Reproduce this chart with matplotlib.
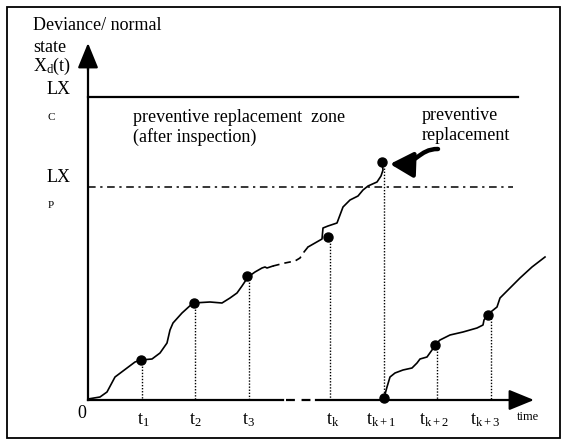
import matplotlib.pyplot as plt
from matplotlib.patches import FancyArrowPatch, Rectangle
from matplotlib.path import Path

plt.rcParams['font.family'] = ['Liberation Serif', 'DejaVu Serif']
plt.rcParams['mathtext.fontset'] = 'custom'
plt.rcParams['mathtext.rm'] = 'Liberation Serif'
plt.rcParams['mathtext.it'] = 'Liberation Serif:italic'

# diagram drawn in picture units (x to the right, y downward)
origin = (88, 400)
lxc_y = 97
lxp_y = 187

# degradation path before the replacement (solid part, dashed gap, solid part)
path1_x = [88, 100, 107, 115, 127, 135, 141, 152, 160, 167, 170, 173, 182, 193, 210, 222, 230, 237, 242, 248, 255, 262, 265, 267, 273]
path1_y = [399, 397, 392, 377, 368, 362, 360, 359, 353, 343, 330, 323, 313, 303, 302, 303, 298, 293, 286, 277, 272, 268, 267, 268, 266]
gap_x = [273, 285, 295, 300, 304, 308]
gap_y = [266, 263, 261, 258, 252, 247]
path2_x = [308, 315, 322, 323, 328, 337, 340, 343, 350, 358, 363, 368, 377, 381, 383, 382]
path2_y = [247, 243, 239, 228, 226, 223, 215, 207, 200, 196, 190, 186, 182, 176, 170, 163]

# path after the preventive replacement
path3_x = [384, 387, 390, 395, 403, 412, 417, 420, 427, 432, 435, 440, 450, 463, 477, 483, 484, 487, 497, 500, 510, 520, 532, 545]
path3_y = [398, 387, 377, 373, 370, 368, 363, 359, 357, 350, 345, 340, 335, 332, 328, 325, 320, 315, 307, 298, 288, 278, 267, 257]

# inspection points
insp_x = [141, 194, 247, 328, 382, 384, 435, 488]
insp_y = [360, 303, 276, 237, 162, 398, 345, 315]
insp_line_x = [142, 195, 249, 330, 384, 437, 491]
insp_line_top = [360, 303, 276, 237, 165, 345, 315]

tick_x = [143, 195, 249, 333, 381, 434, 485]
tick_labels = [r'$\mathrm{t}_{\mathrm{1}}$', r'$\mathrm{t}_{\mathrm{2}}$', r'$\mathrm{t}_{\mathrm{3}}$',
               r'$\mathrm{t}_{\mathrm{k}}$', r'$\mathrm{t}_{\mathrm{k+1}}$', r'$\mathrm{t}_{\mathrm{k+2}}$',
               r'$\mathrm{t}_{\mathrm{k+3}}$']

fig = plt.figure(figsize=(5.67, 4.41), dpi=100)
ax = fig.add_axes([0, 0, 1, 1])
ax.set_xlim(0, 567)
ax.set_ylim(441, 0)
ax.axis('off')

# outer frame
ax.add_patch(Rectangle((7, 7), 553, 431, fill=False, lw=1.3, color='black'))

# axes of the diagram
ax.plot([origin[0], origin[0]], [origin[1], 58], color='black', lw=1.6)
ax.plot([origin[0], 283], [origin[1], origin[1]], color='black', lw=1.6)
ax.plot([286, 316], [origin[1], origin[1]], color='black', lw=1.6, dashes=(4, 3))
ax.plot([316, 520], [origin[1], origin[1]], color='black', lw=1.6)
ax.add_patch(FancyArrowPatch((origin[0], 70), (origin[0], 43), arrowstyle='-|>,head_length=1.1,head_width=0.45',
                             mutation_scale=14, color='black', lw=1.6, shrinkA=0, shrinkB=0))
ax.add_patch(FancyArrowPatch((510, origin[1]), (534, origin[1]), arrowstyle='-|>,head_length=1.1,head_width=0.45',
                             mutation_scale=14, color='black', lw=1.6, shrinkA=0, shrinkB=0))

# thresholds
ax.plot([origin[0], 518], [lxc_y, lxc_y], color='black', lw=1.6)
ax.plot([origin[0], 513], [lxp_y, lxp_y], color='black', lw=1.1, dashes=(5, 3, 1.5, 3))

# inspection lines
for x, top in zip(insp_line_x, insp_line_top):
    ax.plot([x, x], [top, origin[1]], color='black', lw=1.0, dashes=(1, 1.2))

# paths
ax.plot(path1_x, path1_y, color='black', lw=1.2)
ax.plot(gap_x, gap_y, color='black', lw=1.2, dashes=(4, 3))
ax.plot(path2_x, path2_y, color='black', lw=1.2)
ax.plot(path3_x, path3_y, color='black', lw=1.2)
ax.plot(insp_x, insp_y, 'o', color='black', ms=6.5)

# curved arrow to the replacement point
arrow_path = Path([(438, 149), (418, 149), (418, 165), (390, 164)],
                  [Path.MOVETO, Path.CURVE4, Path.CURVE4, Path.CURVE4])
ax.add_patch(FancyArrowPatch(path=arrow_path, arrowstyle='-|>,head_length=1.0,head_width=0.55',
                             mutation_scale=14, color='black', lw=3.2))

# text
fs = 13
ax.text(33, 25, 'Deviance/ normal', fontsize=fs, va='center')
ax.text(33, 47, 'state', fontsize=fs, va='center')
ax.text(33, 66, r'$\mathrm{X_{d}(t)}$', fontsize=fs, va='center')
ax.text(47, 90, 'LX', fontsize=fs, va='center')
ax.text(48, 117, 'C', fontsize=8, va='center')
ax.text(47, 178, 'LX', fontsize=fs, va='center')
ax.text(48, 205, 'P', fontsize=8, va='center')
ax.text(133, 117, 'preventive replacement  zone', fontsize=fs, va='center')
ax.text(133, 137, '(after inspection)', fontsize=fs, va='center')
ax.text(422, 115, 'preventive', fontsize=fs, va='center')
ax.text(422, 135, 'replacement', fontsize=fs, va='center')
ax.text(82, 413, '0', fontsize=fs, va='center', ha='center')
for x, lab in zip(tick_x, tick_labels):
    ax.text(x, 420, lab, fontsize=fs, va='center', ha='center')
ax.text(528, 417, 'time', fontsize=9, va='center', ha='center')

fig.savefig('out.png', dpi=100)
